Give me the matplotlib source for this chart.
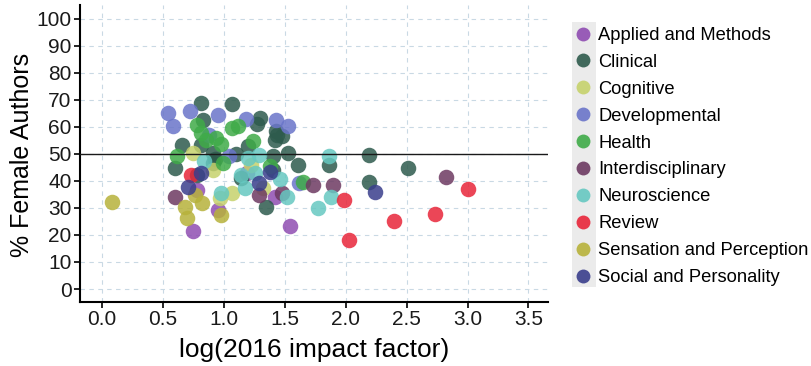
import matplotlib
matplotlib.use("Agg")
import matplotlib.pyplot as plt
from matplotlib.lines import Line2D
from matplotlib.patches import Rectangle

plt.rcParams['font.family'] = ['Liberation Sans', 'DejaVu Sans']

categories = ["Applied and Methods", "Clinical", "Cognitive", "Developmental", "Health",
              "Interdisciplinary", "Neuroscience", "Review", "Sensation and Perception",
              "Social and Personality"]
colors = ["#8f4db2", "#2e5b4d", "#c6d26c", "#6a75c9", "#3fab48",
          "#6d3a62", "#66c8c1", "#e8263a", "#b7b23b", "#3a3e8c"]

applied_x = [0.75, 0.955, 1.545, 1.42, 1.19, 0.78]
applied_y = [21.5, 29.2, 23.3, 34.2, 42.8, 36.6]

clinical_x = [0.815, 1.07, 0.83, 1.30, 1.27, 1.43, 1.48, 1.42, 0.66, 0.81, 0.91, 0.91, 1.10,
              1.40, 1.53, 1.61, 0.60, 0.78, 1.14, 1.35, 1.86, 2.19, 2.19, 2.51, 1.20, 1.40,
              0.93, 1.44]
clinical_y = [68.8, 68.4, 62.6, 63.2, 61.1, 58.3, 56.7, 55.2, 53.3, 53.3, 50.2, 46.5, 50.0,
              49.0, 50.2, 45.7, 44.7, 42.2, 41.0, 30.2, 45.9, 49.6, 39.4, 44.7, 52.7, 44.0,
              48.0, 57.0]

cognitive_x = [0.75, 1.07, 1.32, 0.91, 0.97, 1.22]
cognitive_y = [50.2, 35.4, 37.3, 44.0, 33.5, 46.0]

developmental_x = [0.54, 0.585, 0.72, 0.95, 1.43, 1.53, 1.04, 1.615, 0.88, 1.18]
developmental_y = [65.1, 60.1, 65.7, 64.2, 62.4, 60.4, 49.0, 39.3, 57.0, 63.0]

health_x = [0.62, 0.78, 0.81, 0.94, 0.98, 1.07, 1.12, 1.24, 0.99, 1.65, 1.38, 0.85]
health_y = [49.3, 60.8, 57.7, 55.8, 53.7, 59.5, 60.4, 54.6, 46.5, 39.4, 45.3, 55.0]

interdisc_x = [0.60, 1.73, 1.90, 2.82, 1.48, 1.29]
interdisc_y = [34.2, 38.5, 38.5, 41.3, 35.6, 34.8]

neuro_x = [1.86, 1.88, 1.77, 1.52, 1.46, 0.98, 1.14, 1.20, 1.29, 0.84, 1.17, 1.26]
neuro_y = [49.3, 34.2, 30.1, 34.2, 40.7, 35.6, 42.2, 48.4, 49.6, 47.2, 37.3, 42.8]

review_x = [1.99, 2.03, 2.40, 2.73, 3.00, 0.73]
review_y = [32.8, 18.3, 25.1, 27.6, 36.9, 42.2]

sensation_x = [0.085, 0.68, 0.70, 0.82, 0.98, 0.76]
sensation_y = [32.3, 30.2, 26.1, 31.7, 27.4, 34.8]

social_x = [0.71, 0.81, 1.29, 1.38, 2.24]
social_y = [37.6, 42.8, 39.1, 43.4, 36.0]

series = [(applied_x, applied_y), (clinical_x, clinical_y), (cognitive_x, cognitive_y),
          (developmental_x, developmental_y), (health_x, health_y),
          (interdisc_x, interdisc_y), (neuro_x, neuro_y), (review_x, review_y),
          (sensation_x, sensation_y), (social_x, social_y)]

x_ticks = [0.0, 0.5, 1.0, 1.5, 2.0, 2.5, 3.0, 3.5]
y_ticks = [0, 10, 20, 30, 40, 50, 60, 70, 80, 90, 100]

fig = plt.figure(figsize=(8.12, 3.66), dpi=100)
ax = fig.add_axes([80 / 812, 64 / 366, 468 / 812, 297 / 366])

for (xs, ys), c in zip(series, colors):
    ax.scatter(xs, ys, s=125, color=c, alpha=0.85, linewidths=0, zorder=3)

ax.axhline(50, color="#1a1a1a", lw=1.0, zorder=4)

ax.set_xlim(-0.18, 3.66)
ax.set_ylim(-4.8, 105)
ax.set_xticks(x_ticks)
ax.set_xticklabels([f"{v:.1f}" for v in x_ticks])
ax.set_yticks(y_ticks)
ax.grid(True, color="#c9d9e4", linestyle=(0, (4, 4)), lw=0.8, zorder=0)
for s in ["top", "right"]:
    ax.spines[s].set_visible(False)
for s in ["left", "bottom"]:
    ax.spines[s].set_linewidth(1.5)
    ax.spines[s].set_color("black")
ax.tick_params(axis="both", labelsize=15, colors="black", length=4, width=1.2, pad=2)
for lab in ax.get_xticklabels() + ax.get_yticklabels():
    lab.set_color("#1a1a1a")
ax.set_xlabel("log(2016 impact factor)", fontsize=19, labelpad=6)
ax.set_ylabel("% Female Authors", fontsize=18)
ax.yaxis.set_label_coords(-0.098, 0.495)

# legend
fig.patches.append(Rectangle((572 / 812, 1 - 287 / 366), 24 / 812, 265 / 366,
                             transform=fig.transFigure, facecolor="#ebebeb",
                             edgecolor="none", zorder=0))
handles = [Line2D([0], [0], marker='o', linestyle='', markersize=10, markerfacecolor=c,
                  markeredgewidth=0, color=c, alpha=0.9) for c in colors]
leg = fig.legend(handles, categories, loc="upper left", bbox_to_anchor=(574 / 812, 1 - 27 / 366),
                 frameon=False, fontsize=13.2, labelspacing=0.54, handlelength=1.0,
                 handletextpad=0.31, borderaxespad=0, borderpad=0)

fig.savefig("out.png", dpi=100)
